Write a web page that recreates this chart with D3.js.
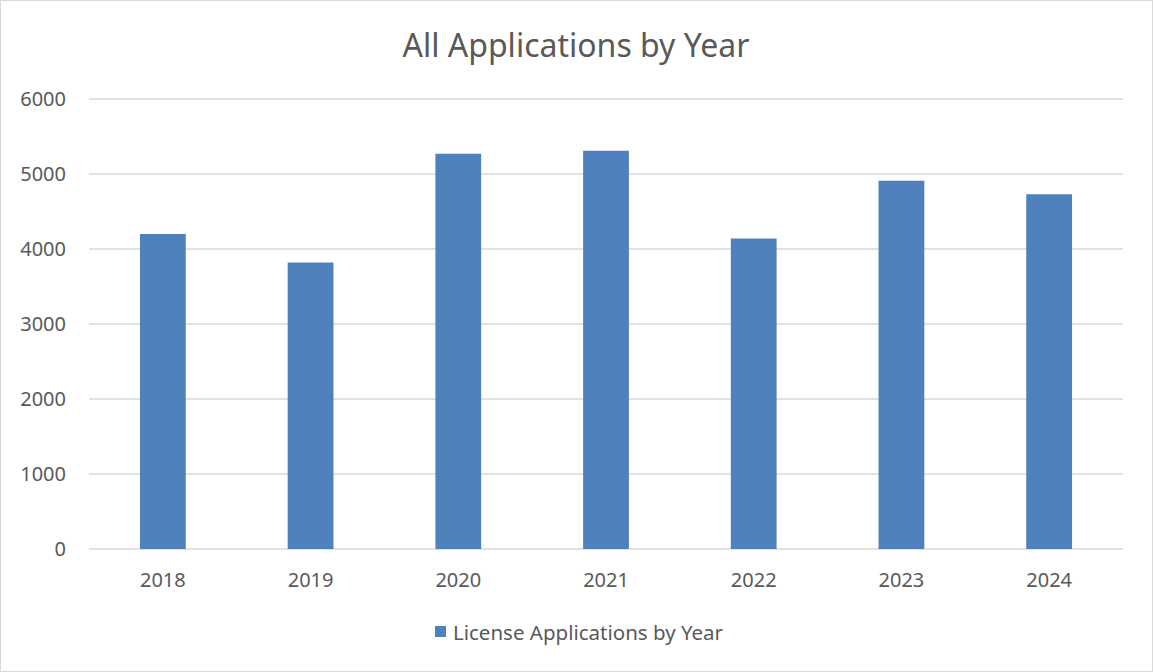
<!DOCTYPE html>
<html>
<head>
<meta charset="utf-8">
<script src="https://cdn.jsdelivr.net/npm/d3@7"></script>
<style>
  body { margin: 0; background: #fff; }
  svg { display: block; font-family: "Noto Sans", "Open Sans", sans-serif; }
</style>
</head>
<body>
<svg id="chart" width="1153" height="672"></svg>
<script>
var years = ["2018", "2019", "2020", "2021", "2022", "2023", "2024"];
var applications = [4200, 3820, 5270, 5310, 4140, 4910, 4730];
var yTicks = [0, 1000, 2000, 3000, 4000, 5000, 6000];
var chartTitle = "All Applications by Year";
var seriesName = "License Applications by Year";

var svg = d3.select("#chart");
var margin = { left: 89, right: 30, top: 99, bottom: 123 };
var width = 1153, height = 672;

// рамка вокруг всей диаграммы
svg.append("rect")
    .attr("x", 0.5).attr("y", 0.5)
    .attr("width", width - 1).attr("height", height - 1)
    .attr("fill", "#fff")
    .attr("stroke", "#d9d9d9");

var x = d3.scaleBand()
    .domain(years)
    .range([margin.left, width - margin.right])
    .paddingInner(0.69)
    .paddingOuter(0.345);

var y = d3.scaleLinear()
    .domain([0, 6000])
    .range([height - margin.bottom, margin.top]);

// сетка
svg.append("g")
    .selectAll("line")
    .data(yTicks)
    .enter()
    .append("line")
    .attr("x1", margin.left)
    .attr("x2", width - margin.right)
    .attr("y1", d => y(d))
    .attr("y2", d => y(d))
    .attr("stroke", "#d9d9d9")
    .attr("stroke-width", 1.5);

var yAxis = svg.append("g")
    .attr("transform", "translate(" + (margin.left - 23) + ",0)")
    .call(d3.axisLeft(y).tickValues(yTicks).tickFormat(d3.format("d")).tickSize(0).tickPadding(0));
yAxis.select(".domain").remove();
yAxis.selectAll("text")
    .attr("font-size", 20)
    .attr("fill", "#595959")
    .attr("font-family", "Noto Sans");

svg.append("g")
    .selectAll("rect")
    .data(years)
    .enter()
    .append("rect")
    .attr("x", d => x(d))
    .attr("width", x.bandwidth())
    .attr("y", (d, i) => y(applications[i]))
    .attr("height", (d, i) => y(0) - y(applications[i]))
    .attr("fill", "#4f81bd");

var xAxis = svg.append("g")
    .attr("transform", "translate(0," + (height - margin.bottom) + ")")
    .call(d3.axisBottom(x).tickSize(0).tickPadding(24));
xAxis.select(".domain").remove();
xAxis.selectAll("text")
    .attr("font-size", 20)
    .attr("fill", "#595959")
    .attr("font-family", "Noto Sans");

svg.append("text")
    .attr("x", 576)
    .attr("y", 57)
    .attr("text-anchor", "middle")
    .attr("font-size", 32)
    .attr("fill", "#595959")
    .text(chartTitle);

// легенда
var legend = svg.append("g");
legend.append("rect")
    .attr("x", 435).attr("y", 626)
    .attr("width", 11).attr("height", 11)
    .attr("fill", "#4f81bd");
legend.append("text")
    .attr("x", 453)
    .attr("y", 640)
    .attr("font-size", 20.5)
    .attr("fill", "#595959")
    .text(seriesName);
</script>
</body>
</html>
